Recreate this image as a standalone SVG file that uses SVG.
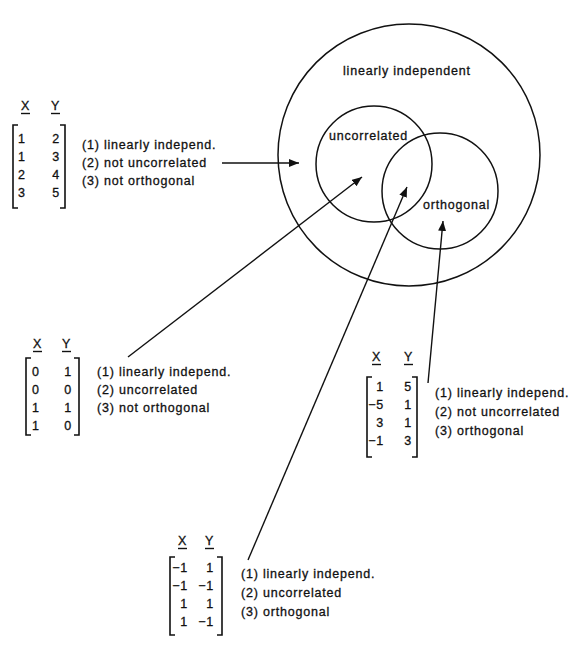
<svg xmlns="http://www.w3.org/2000/svg" width="584" height="648" viewBox="0 0 584 648">
<defs>
<style>
text{font-family:"Liberation Sans",Arial,sans-serif;font-size:12.5px;letter-spacing:0.8px;fill:#111;stroke:#111;stroke-width:0.3px}
.e{text-anchor:end}
.c{fill:none;stroke:#111;stroke-width:1.5}
.b{fill:none;stroke:#111;stroke-width:1.6}
.u{stroke:#111;stroke-width:1.4}
.a{fill:none;stroke:#111;stroke-width:1.4}
</style>
<marker id="ah" markerUnits="userSpaceOnUse" markerWidth="11" markerHeight="9" refX="10" refY="4" orient="auto">
<path d="M0,0 L10,4 L0,8 z" fill="#111"/>
</marker>
</defs>
<rect width="584" height="648" fill="#fff"/>

<g id="venn">
<circle class="c" cx="409" cy="155" r="131"/>
<text x="343" y="75">linearly independent</text>
<g id="uncorrelated">
<circle class="c" cx="374" cy="164" r="58"/>
<text x="329" y="140">uncorrelated</text>
</g>
<g id="orthogonal">
<circle class="c" cx="440" cy="191" r="58"/>
<text x="423" y="209">orthogonal</text>
</g>
</g>

<g id="matrix1">
<text x="21" y="110">X</text><text x="51" y="110">Y</text>
<line class="u" x1="21" y1="113.5" x2="30" y2="113.5"/><line class="u" x1="51" y1="113.5" x2="60" y2="113.5"/>
<path class="b" d="M18,125 H13 V208 H18 M60,125 H65 V208 H60"/>
<text x="18" y="143">1</text><text class="e" x="60" y="143">2</text>
<text x="18" y="161">1</text><text class="e" x="60" y="161">3</text>
<text x="18" y="179">2</text><text class="e" x="60" y="179">4</text>
<text x="18" y="197">3</text><text class="e" x="60" y="197">5</text>
<text x="82" y="149">(1) linearly independ.</text>
<text x="82" y="167">(2) not uncorrelated</text>
<text x="82" y="185">(3) not orthogonal</text>
</g>

<g id="matrix2">
<text x="33" y="348">X</text><text x="62" y="348">Y</text>
<line class="u" x1="33" y1="351.5" x2="42" y2="351.5"/><line class="u" x1="62" y1="351.5" x2="71" y2="351.5"/>
<path class="b" d="M31,358 H26 V435 H31 M74,358 H79 V435 H74"/>
<text x="32" y="376">0</text><text class="e" x="72" y="376">1</text>
<text x="32" y="394">0</text><text class="e" x="72" y="394">0</text>
<text x="32" y="412">1</text><text class="e" x="72" y="412">1</text>
<text x="32" y="430">1</text><text class="e" x="72" y="430">0</text>
<text x="97" y="376">(1) linearly independ.</text>
<text x="97" y="394">(2) uncorrelated</text>
<text x="97" y="412">(3) not orthogonal</text>
</g>

<g id="matrix3">
<text x="372" y="361">X</text><text x="404" y="361">Y</text>
<line class="u" x1="372" y1="364.5" x2="381" y2="364.5"/><line class="u" x1="404" y1="364.5" x2="413" y2="364.5"/>
<path class="b" d="M372,377 H367 V457 H372 M412,377 H417 V457 H412"/>
<text class="e" x="384" y="391">1</text><text class="e" x="412" y="391">5</text>
<text class="e" x="384" y="409">−5</text><text class="e" x="412" y="409">1</text>
<text class="e" x="384" y="427">3</text><text class="e" x="412" y="427">1</text>
<text class="e" x="384" y="445">−1</text><text class="e" x="412" y="445">3</text>
<text x="435" y="397">(1) linearly independ.</text>
<text x="435" y="416">(2) not uncorrelated</text>
<text x="435" y="435">(3) orthogonal</text>
</g>

<g id="matrix4">
<text x="178" y="545">X</text><text x="205" y="545">Y</text>
<line class="u" x1="178" y1="548.5" x2="187" y2="548.5"/><line class="u" x1="205" y1="548.5" x2="214" y2="548.5"/>
<path class="b" d="M175,557 H170 V635 H175 M217,557 H222 V635 H217"/>
<text class="e" x="188" y="572">−1</text><text class="e" x="214" y="572">1</text>
<text class="e" x="188" y="590">−1</text><text class="e" x="214" y="590">−1</text>
<text class="e" x="188" y="608">1</text><text class="e" x="214" y="608">1</text>
<text class="e" x="188" y="626">1</text><text class="e" x="214" y="626">−1</text>
<text x="241" y="578">(1) linearly independ.</text>
<text x="241" y="597">(2) uncorrelated</text>
<text x="241" y="616">(3) orthogonal</text>
</g>

<g id="connectors">
<line class="a" x1="222" y1="163" x2="299" y2="163" marker-end="url(#ah)"/>
<line class="a" x1="128" y1="357" x2="362" y2="177" marker-end="url(#ah)"/>
<line class="a" x1="248" y1="560" x2="407" y2="187" marker-end="url(#ah)"/>
<line class="a" x1="428" y1="383" x2="443" y2="221" marker-end="url(#ah)"/>
</g>
</svg>
